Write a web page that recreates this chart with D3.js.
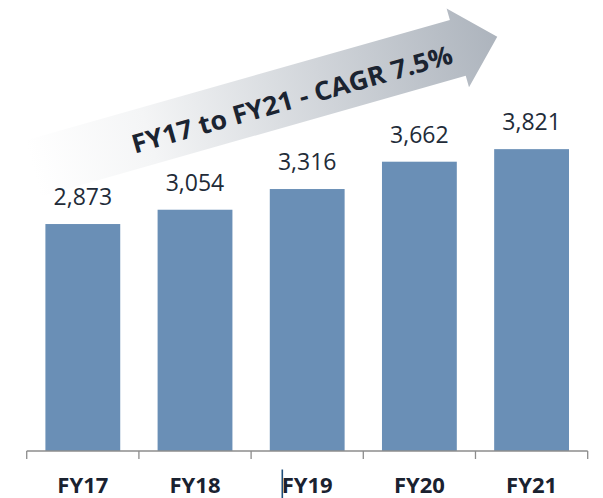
<!DOCTYPE html>
<html>
<head>
<meta charset="utf-8">
<script src="https://cdn.jsdelivr.net/npm/d3@7"></script>
<style>
  body { margin: 0; background: #fff; }
  text { font-family: "Open Sans", "Liberation Sans", Arial, sans-serif; }
</style>
</head>
<body>
<div id="chart"></div>
<script>
// Data
const categories = ["FY17", "FY18", "FY19", "FY20", "FY21"];
const values = [2873, 3054, 3316, 3662, 3821];
const cagrText = "FY17 to FY21 - CAGR 7.5%";

const W = 603, H = 498;
const svg = d3.select("#chart").append("svg")
    .attr("width", W)
    .attr("height", H);

// Scales
const x = d3.scaleBand()
    .domain(categories)
    .range([26.7, 587.7])
    .paddingInner(0.333)
    .paddingOuter(0.1667);

const y = d3.scaleLinear()
    .domain([0, 5000])
    .range([451, 56]);

// Growth arrow (drawn behind everything)
const defs = svg.append("defs");
const grad = defs.append("linearGradient")
    .attr("id", "arrowGrad")
    .attr("gradientUnits", "userSpaceOnUse")
    .attr("x1", 0).attr("y1", 0).attr("x2", 482).attr("y2", 0);
grad.append("stop").attr("offset", 0).attr("stop-color", "#ffffff");
grad.append("stop").attr("offset", 0.25).attr("stop-color", "#f4f5f6");
grad.append("stop").attr("offset", 1).attr("stop-color", "#adb4bd");

const arrowLen = 482.6, shaftHalf = 29, headHalf = 41, headLen = 41;
const arrow = svg.append("g")
    .attr("transform", "translate(33,168.5) rotate(-15.85)");

arrow.append("path")
    .attr("d", d3.line()([
        [0, -shaftHalf], [arrowLen - headLen, -shaftHalf], [arrowLen - headLen, -headHalf],
        [arrowLen, 0], [arrowLen - headLen, headHalf], [arrowLen - headLen, shaftHalf],
        [0, shaftHalf]
    ]) + "Z")
    .attr("fill", "url(#arrowGrad)");

arrow.append("text")
    .attr("x", 268)
    .attr("y", 13.5)
    .attr("text-anchor", "middle")
    .attr("textLength", 332)
    .attr("lengthAdjust", "spacingAndGlyphs")
    .style("font-size", "26px")
    .style("font-weight", "bold")
    .style("fill", "#1b2431")
    .text(cagrText);

// Bars
svg.selectAll(".bar")
    .data(values)
    .enter().append("rect")
    .attr("class", "bar")
    .attr("x", (d, i) => x(categories[i]))
    .attr("y", d => y(d))
    .attr("width", x.bandwidth())
    .attr("height", d => y(0) - y(d))
    .attr("fill", "#6a8fb6");

// Value labels
svg.selectAll(".val")
    .data(values)
    .enter().append("text")
    .attr("class", "val")
    .attr("x", (d, i) => x(categories[i]) + x.bandwidth() / 2)
    .attr("y", d => y(d) - 19)
    .attr("text-anchor", "middle")
    .style("font-size", "23px")
    .style("fill", "#222b38")
    .text(d => d3.format(",")(d));

// X axis: baseline with ticks at band boundaries
const axis = svg.append("g");
const [r0, r1] = x.range();
const half = x.step() * x.paddingInner() / 2;
const bounds = categories.map(c => x(c) - half).concat([r1]);

axis.append("line")
    .attr("x1", r0).attr("x2", r1)
    .attr("y1", y(0)).attr("y2", y(0))
    .attr("stroke", "#8c8c8c")
    .attr("stroke-width", 1.3);

axis.selectAll(".tick")
    .data(bounds)
    .enter().append("line")
    .attr("x1", d => d).attr("x2", d => d)
    .attr("y1", y(0)).attr("y2", y(0) + 8)
    .attr("stroke", "#8c8c8c")
    .attr("stroke-width", 1.3);

axis.selectAll(".cat")
    .data(categories)
    .enter().append("text")
    .attr("x", d => x(d) + x.bandwidth() / 2)
    .attr("y", 492.7)
    .attr("text-anchor", "middle")
    .style("font-size", "22px")
    .style("font-weight", "bold")
    .style("fill", "#1a2230")
    .text(d => d);

// stray cursor mark seen beside the FY19 label
svg.append("line")
    .attr("x1", 282.3).attr("x2", 282.3)
    .attr("y1", 469.5).attr("y2", 498)
    .attr("stroke", "#1f4e79")
    .attr("stroke-width", 1.6);
</script>
</body>
</html>
